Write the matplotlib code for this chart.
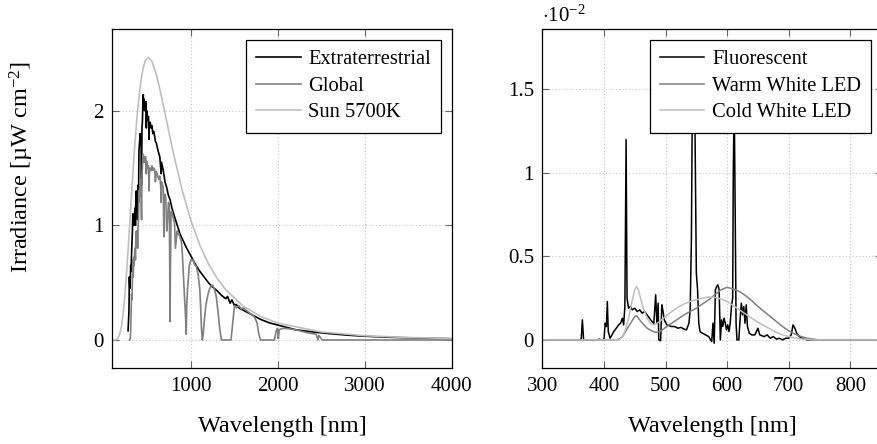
import matplotlib
matplotlib.use("Agg")
import matplotlib.pyplot as plt

plt.rcParams['font.family'] = ['Liberation Serif', 'DejaVu Serif']
plt.rcParams['mathtext.fontset'] = 'custom'
plt.rcParams['mathtext.rm'] = 'Liberation Serif'
plt.rcParams['mathtext.it'] = 'Liberation Serif:italic'

# ---- left panel: solar spectra (irradiance per nm)
ext_wl = [275, 285, 290, 295, 300, 305, 310, 315, 320, 325, 330, 335, 340, 345, 350, 355,
          360, 365, 370, 375, 380, 385, 390, 395, 400, 405, 410, 415, 420, 425, 430, 435,
          440, 445, 450, 455, 460, 465, 470, 475, 480, 485, 490, 495, 500, 510, 517, 520,
          530, 540, 550, 560, 570, 580, 590, 600, 620, 640, 656, 660, 680, 700, 720, 740,
          760, 780, 800, 820, 850, 870, 900, 950, 1000, 1050, 1100, 1150, 1200, 1250, 1300,
          1350, 1400, 1420, 1450, 1470, 1500, 1520, 1550, 1600, 1650, 1700, 1800, 1900,
          2000, 2200, 2400, 2600, 2800, 3000, 3200, 3500, 3800, 4000]
ext_irr = [0.08, 0.25, 0.55, 0.45, 0.5, 0.65, 0.6, 0.75, 0.85, 0.95, 1.1, 1.0, 1.05, 1.0, 1.1, 1.15,
           1.0, 1.25, 1.3, 1.15, 1.25, 1.05, 1.35, 1.2, 1.65, 1.7, 1.75, 1.8, 1.75, 1.7, 1.35, 1.85,
           1.9, 2.05, 2.14, 2.05, 2.1, 2.0, 2.05, 2.0, 2.08, 1.85, 2.0, 1.95, 1.92, 1.95, 1.75, 1.88,
           1.9, 1.85, 1.87, 1.8, 1.82, 1.78, 1.73, 1.72, 1.65, 1.6, 1.45, 1.55, 1.48, 1.38, 1.33, 1.26,
           1.22, 1.15, 1.1, 1.05, 0.98, 0.93, 0.88, 0.8, 0.73, 0.66, 0.6, 0.55, 0.5, 0.46, 0.43,
           0.39, 0.36, 0.38, 0.32, 0.35, 0.3, 0.31, 0.28, 0.26, 0.24, 0.22, 0.18, 0.15,
           0.13, 0.09, 0.07, 0.055, 0.042, 0.033, 0.026, 0.019, 0.014, 0.011]

glob_wl = [290, 300, 305, 310, 315, 320, 325, 330, 335, 340, 345, 350, 355, 360, 365, 370,
           375, 380, 385, 390, 395, 400, 405, 410, 415, 420, 425, 430, 435, 440, 445, 450,
           455, 460, 465, 470, 475, 480, 485, 490, 495, 500, 510, 517, 520, 530, 540, 550,
           560, 570, 580, 590, 600, 610, 620, 630, 640, 650, 656, 660, 670, 680, 687, 690,
           700, 710, 720, 730, 740, 750, 758, 762, 770, 780, 790, 800, 810, 820, 830, 840,
           850, 860, 870, 880, 890, 900, 910, 920, 930, 940, 945, 950, 960, 970, 980, 1000,
           1020, 1040, 1060, 1080, 1100, 1110, 1120, 1130, 1140, 1150, 1170, 1190, 1210,
           1230, 1250, 1270, 1290, 1310, 1330, 1350, 1400, 1460, 1480, 1500, 1520, 1550,
           1580, 1600, 1650, 1700, 1730, 1760, 1780, 1800, 1960, 1980, 1995, 2005, 2015,
           2050, 2100, 2200, 2300, 2400, 2440, 2460, 2470, 2490, 2510, 4000]
glob_irr = [0.0, 0.01, 0.08, 0.25, 0.4, 0.35, 0.55, 0.7, 0.55, 0.72, 0.65, 0.75, 0.8, 0.7, 0.9, 0.95,
            0.85, 0.95, 0.8, 0.98, 1.05, 1.3, 1.25, 1.35, 1.4, 1.38, 1.3, 1.05, 1.45, 1.5, 1.6, 1.62,
            1.55, 1.6, 1.55, 1.58, 1.6, 1.58, 1.45, 1.56, 1.5, 1.5, 1.52, 1.3, 1.45, 1.5, 1.48, 1.52,
            1.48, 1.5, 1.49, 1.38, 1.47, 1.45, 1.42, 1.4, 1.43, 1.35, 1.2, 1.38, 1.36, 1.33, 0.9, 1.25,
            1.27, 1.23, 0.95, 1.05, 1.2, 1.18, 0.16, 0.55, 1.12, 1.12, 1.08, 1.05, 1.02, 0.8, 0.88, 0.95,
            0.92, 0.93, 0.9, 0.88, 0.85, 0.75, 0.6, 0.45, 0.3, 0.15, 0.05, 0.3, 0.45, 0.55, 0.65, 0.7,
            0.7, 0.66, 0.64, 0.58, 0.45, 0.3, 0.1, 0.0, 0.05, 0.15, 0.3, 0.38, 0.44,
            0.47, 0.48, 0.44, 0.38, 0.25, 0.1, 0.0, 0.0, 0.0, 0.15, 0.3, 0.28, 0.3,
            0.27, 0.28, 0.25, 0.22, 0.2, 0.15, 0.05, 0.0, 0.0, 0.08, 0.1, 0.01, 0.09,
            0.1, 0.1, 0.09, 0.07, 0.055, 0.05, 0.0, 0.04, 0.02, 0.0, 0.0]

sun_wl = [95, 130, 150, 175, 200, 225, 250, 275, 300, 325, 350, 375, 400, 425, 450, 475, 508,
          550, 600, 650, 700, 750, 800, 900, 1000, 1100, 1200, 1300, 1400, 1600, 1800, 2000,
          2500, 3000, 3500, 4000]
sun_irr = [0.0, 0.0, 0.008, 0.04, 0.123, 0.277, 0.502, 0.782, 1.087, 1.391, 1.673, 1.92, 2.118,
           2.272, 2.376, 2.438, 2.465, 2.43, 2.317, 2.158, 1.979, 1.797, 1.619, 1.3, 1.038, 0.829,
           0.665, 0.538, 0.437, 0.296, 0.206, 0.147, 0.07, 0.037, 0.0215, 0.013]

# ---- right panel: artificial light sources (x 1e-2)
fluo_wl = [300, 360, 363, 365, 367, 390, 392, 395, 400, 402, 404, 405.5, 407, 410, 413, 416,
           420, 424, 427, 430, 432, 434, 436, 437.5, 440, 443, 446, 450, 454, 458, 462, 466,
           470, 474, 478, 481, 484, 486, 488, 489, 492, 494, 496, 498, 502, 506, 510, 515,
           520, 525, 530, 534, 538, 540, 542, 544, 546, 548, 550, 552, 554, 556, 560, 565,
           570, 575, 577, 579, 581, 583, 585, 587, 589, 591, 593, 595, 597, 599, 601, 603,
           605, 607, 609, 610, 611.5, 613, 614.5, 616, 619, 621, 623, 625, 627, 629, 631, 633,
           636, 640, 645, 650, 653, 660, 665, 670, 675, 680, 685, 690, 695, 700, 704, 707,
           710, 713, 717, 722, 730, 760, 851]
fluo_irr = [0.0, 0.0, 0.0, 0.12, 0.0, 0.0, 0.005, 0.0, 0.0, 0.1, 0.08, 0.23, 0.05, 0.01, 0.03, 0.05,
            0.07, 0.09, 0.1, 0.13, 0.09, 0.2, 1.2, 0.25, 0.19, 0.2, 0.18, 0.19, 0.17, 0.18, 0.16, 0.17,
            0.15, 0.13, 0.11, 0.1, 0.27, 0.1, 0.22, 0.0, -0.005, 0.21, 0.17, 0.12, 0.09, 0.085, 0.08, 0.08,
            0.07, 0.075, 0.065, 0.06, 0.1, 0.18, 0.6, 1.69, 1.69, 1.2, 0.4, 0.3, 0.1, 0.05, 0.04, 0.03,
            0.02, -0.01, 0.1, -0.02, 0.3, 0.32, 0.33, 0.3, 0.0, 0.12, 0.08, 0.13, 0.1, 0.06, 0.09, 0.05,
            0.1, 0.2, 0.25, 1.0, 1.45, 0.8, 0.1, 0.0, 0.0, 0.12, 0.22, 0.15, 0.2, 0.1, 0.21, 0.08,
            0.04, 0.03, 0.03, 0.07, 0.03, 0.02, 0.03, 0.01, 0.02, 0.005, 0.01, 0.0, 0.01, 0.01, 0.03, 0.09,
            0.07, 0.04, 0.02, 0.01, 0.0, 0.0, 0.0]

warm_wl = [300, 420, 425, 430, 435, 440, 445, 450, 453, 456, 460, 465, 470, 475, 480, 485, 490,
           495, 500, 510, 520, 530, 540, 550, 560, 570, 580, 590, 600, 610, 620, 630, 640, 650,
           660, 670, 680, 690, 700, 710, 720, 730, 740, 750, 851]
warm_irr = [0.0, 0.0, 0.005, 0.02, 0.05, 0.08, 0.11, 0.14, 0.145, 0.13, 0.11, 0.09, 0.07, 0.06, 0.05,
            0.045, 0.05, 0.06, 0.075, 0.1, 0.125, 0.15, 0.17, 0.19, 0.215, 0.24, 0.27, 0.3, 0.315,
            0.305, 0.29, 0.265, 0.235, 0.2, 0.17, 0.14, 0.11, 0.08, 0.055, 0.035, 0.02, 0.01, 0.005,
            0.0, 0.0]

cold_wl = [300, 425, 430, 435, 440, 445, 450, 453, 456, 460, 465, 470, 475, 480, 485, 490, 500,
           510, 520, 530, 540, 550, 560, 570, 580, 590, 600, 610, 620, 630, 640, 650, 660, 670,
           680, 690, 700, 710, 720, 730, 740, 851]
cold_irr = [0.0, 0.0, 0.02, 0.06, 0.13, 0.22, 0.3, 0.32, 0.3, 0.24, 0.18, 0.13, 0.1, 0.09, 0.095,
            0.11, 0.14, 0.17, 0.195, 0.215, 0.23, 0.24, 0.25, 0.257, 0.255, 0.245, 0.23, 0.205, 0.18,
            0.155, 0.13, 0.105, 0.085, 0.065, 0.045, 0.03, 0.02, 0.012, 0.006, 0.003, 0.0, 0.0]

BLACK, GRAY, LIGHT = '#000000', '#808080', '#bfbfbf'

fig = plt.figure(figsize=(8.77, 4.44), dpi=100)
ax1 = fig.add_axes([0.1280, 0.1705, 0.3870, 0.7635])
ax2 = fig.add_axes([0.6184, 0.1705, 0.3870, 0.7635])


def style(ax):
    ax.grid(True, color='#c4c4c4', linestyle=(0, (1, 2)), linewidth=0.8)
    ax.set_axisbelow(True)
    ax.tick_params(direction='in', length=5, width=0.8, color='#666666', labelsize=15,
                   top=True, right=True, pad=6)
    for s in ax.spines.values():
        s.set_linewidth(0.9)
    leg = ax.legend(loc='upper right', fontsize=14.8, frameon=True, fancybox=False,
                    edgecolor='black', framealpha=1, handlelength=2.15, handletextpad=0.38,
                    labelspacing=0.35, borderpad=0.5, borderaxespad=0.5)
    leg.get_frame().set_linewidth(0.9)
    ax.set_xlabel('Wavelength [nm]', fontsize=17.5, labelpad=15)


ax1.plot(ext_wl, ext_irr, color=BLACK, lw=1.2, label='Extraterrestrial')
ax1.plot(glob_wl, glob_irr, color=GRAY, lw=1.2, label='Global')
ax1.plot(sun_wl, sun_irr, color=LIGHT, lw=1.2, label='Sun 5700K')
ax1.set_xlim(93, 4000)
ax1.set_ylim(-0.247, 2.71)
ax1.set_xticks([1000, 2000, 3000, 4000])
ax1.set_yticks([0, 1, 2])
style(ax1)

ax2.plot(fluo_wl, fluo_irr, color=BLACK, lw=1.1, label='Fluorescent')
ax2.plot(warm_wl, warm_irr, color=GRAY, lw=1.1, label='Warm White LED')
ax2.plot(cold_wl, cold_irr, color=LIGHT, lw=1.1, label='Cold White LED')
ax2.set_xlim(300, 851)
ax2.set_ylim(-0.17, 1.86)
ax2.set_xticks([300, 400, 500, 600, 700, 800])
ax2.set_yticks([0, 0.5, 1, 1.5])
ax2.set_yticklabels(['0', '0.5', '1', '1.5'])
style(ax2)
ax2.text(0.0, 1.008, r'$\cdot10^{-2}$', transform=ax2.transAxes, fontsize=15,
         ha='left', va='bottom')

fig.text(0.025, 0.625, r'Irradiance [µW cm$^{-2}$]', rotation=90, fontsize=17.5,
         ha='center', va='center')

fig.savefig('out.png', dpi=100)
